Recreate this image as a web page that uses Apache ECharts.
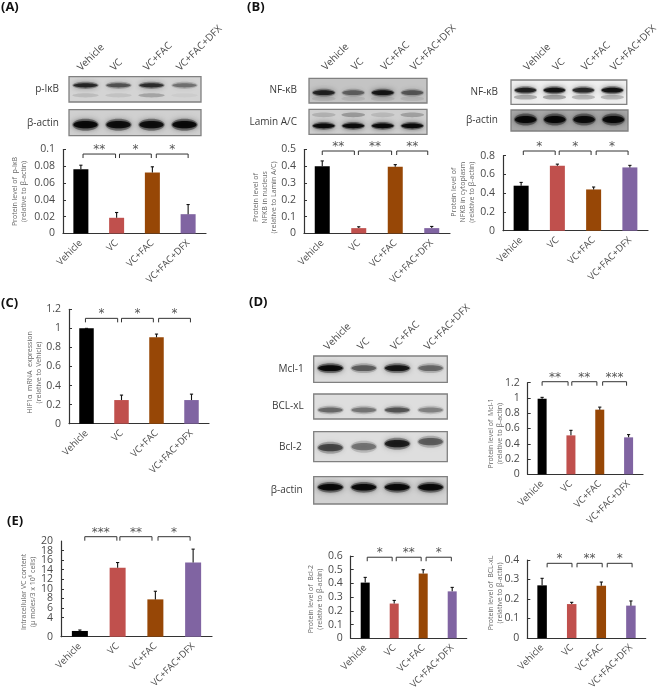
<!DOCTYPE html>
<html><head><meta charset="utf-8">
<style>html,body{margin:0;padding:0;background:#fff}#c{width:660px;height:692px}</style>
<script src="https://cdn.jsdelivr.net/npm/echarts@6/dist/echarts.min.js"></script>
</head><body><div id="c"></div>
<script>
// ---- values ----
const categories = ['Vehicle','VC','VC+FAC','VC+FAC+DFX'];
const pIkbMean = [0.0766,0.0187,0.0726,0.023];
const pIkbUpper = [0.0813,0.025,0.0794,0.0345];
const pIkbStars = ['**','*','*'];
const nfkbNucMean = [0.40,0.032,0.397,0.032];
const nfkbNucUpper = [0.432,0.04,0.41,0.042];
const nfkbNucStars = ['**','**','**'];
const nfkbCytoMean = [0.48,0.693,0.44,0.675];
const nfkbCytoUpper = [0.515,0.71,0.466,0.697];
const nfkbCytoStars = ['*','*','*'];
const hifMean = [1.0,0.248,0.906,0.248];
const hifUpper = [1.0,0.30,0.94,0.31];
const hifStars = ['*','*','*'];
const mclMean = [0.99,0.51,0.847,0.484];
const mclUpper = [1.008,0.576,0.88,0.52];
const mclStars = ['**','**','***'];
const vcMean = [1.2,14.4,7.8,15.5];
const vcUpper = [1.4,15.5,9.5,18.3];
const vcStars = ['***','**','*'];
const bcl2Mean = [0.406,0.253,0.472,0.342];
const bcl2Upper = [0.444,0.276,0.50,0.371];
const bcl2Stars = ['*','**','*'];
const bclxlMean = [0.27,0.174,0.268,0.166];
const bclxlUpper = [0.306,0.183,0.287,0.19];
const bclxlStars = ['*','**','*'];
// band darkness per lane in the blots
const blotPikb = [0.8,0.55,0.75,0.4];
const blotPikbLower = [0.15,0.12,0.3,0.05];
const blotActinA = [1,0.95,0.95,1];
const blotNfkbNuc = [0.8,0.45,0.9,0.5];
const blotNfkbNucLower = [0.1,0.1,0.1,0.1];
const blotLamin = [1,1,1,1];
const blotLaminUpper = [0.2,0.35,0.15,0.3];
const blotNfkbCyto = [0.85,0.95,0.8,0.95];
const blotNfkbCytoLower = [0.35,0.4,0.3,0.3];
const blotActinB = [1,1,0.95,1];
const blotMcl = [1,0.5,0.9,0.45];
const blotBclxl = [0.45,0.4,0.55,0.35];
const blotBcl2 = [0.6,0.4,0.85,0.5];
const blotActinD = [1,1,1,1];

// ---- style & layout ----
const FONT = '"Open Sans","Noto Sans",sans-serif';
const barColors = ['#000000','#C0504D','#974706','#8064A2'];
const T = '#4a4a4a';

const charts = [
 {left:63,top:149.5,width:143,height:84,max:0.1,step:0.02,bw:15,mean:pIkbMean,upper:pIkbUpper,stars:pIkbStars,level:0.0946,
  spans:[[.06,.97],[1.08,1.97],[2.11,3]],name:'Protein level of  p-IκB\n(relative to β-actin)',gap:35,shift:0},
 {left:304,top:149.5,width:146,height:84,max:0.5,step:0.1,bw:15,mean:nfkbNucMean,upper:nfkbNucUpper,stars:nfkbNucStars,level:0.491,
  spans:[[0,.88],[.99,1.9],[2.04,2.89]],name:'Protein level of\nNFKB in nucleus\n(relative to Lamin A/C)',gap:26,shift:6},
 {left:503,top:155.7,width:145,height:75,max:0.8,step:0.2,bw:15,mean:nfkbCytoMean,upper:nfkbCytoUpper,stars:nfkbCytoStars,level:0.85,
  spans:[[.06,.94],[1.05,1.93],[2.07,2.95]],name:'Protein level of\nNFKB in cytoplasm\n(relative to β-actin)',gap:27,shift:-1},
 {left:69,top:309.3,width:140,height:114.4,max:1.2,step:0.2,bw:14.5,mean:hifMean,upper:hifUpper,stars:hifStars,level:1.105,
  spans:[[-.03,.89],[1,1.91],[2.06,2.97]],name:'HIF1α  mRNA  expression\n(relative to Vehicle)',gap:26,shift:6},
 {left:527.7,top:382.7,width:115.3,height:91.6,max:1.2,step:0.2,bw:9,mean:mclMean,upper:mclUpper,stars:mclStars,level:1.213,
  spans:[[0,.9],[1.03,1.9],[2.1,2.93]],name:'Protein level of  Mcl-1\n(relative to β-actin)',gap:23,shift:5},
 {left:61,top:541,width:151,height:95.7,max:20,step:2,bw:16,mean:vcMean,upper:vcUpper,stars:vcStars,level:20.9,dense:true,
  spans:[[.13,.98],[1.06,1.91],[2.07,2.92]],name:'Intracellular VC content\n(μ moles/3 x 10⁶ cells)',gap:24,shift:3},
 {left:350.7,top:556,width:116,height:84.7,max:0.6,step:0.1,bw:9,mean:bcl2Mean,upper:bcl2Upper,stars:bcl2Stars,level:0.591,
  spans:[[.07,.93],[1.07,1.93],[2.1,2.97]],name:'Protein level of  Bcl-2\n(relative to β-actin)',gap:26,shift:2},
 {left:527.3,top:560,width:118.4,height:78,max:0.4,step:0.1,bw:9.5,mean:bclxlMean,upper:bclxlUpper,stars:bclxlStars,level:0.383,
  spans:[[.17,1.01],[1.18,2.03],[2.2,3.04]],name:'Protein level of  BCL-xL\n(relative to β-actin)',gap:23,shift:-6},
];

const blots = [
 {label:'p-IκB',left:69,top:76.7,width:132,height:25.3,main:blotPikb,extra:blotPikbLower,cy:-4,ey:6,rh:2.4,bg:'#d4d4d4',lanes:true,margin:1,laneShift:18,labelMargin:10},
 {label:'β-actin',left:69,top:109.7,width:132,height:26,main:blotActinA,cy:2,rh:4,bg:'#d0d0d0',labelMargin:10},
 {label:'NF-κB',left:309,top:78.3,width:118,height:24.7,main:blotNfkbNuc,extra:blotNfkbNucLower,cy:2,ey:8,rh:2.6,bg:'#c4c4c4',lanes:true,margin:9.5,labelMargin:12},
 {label:'Lamin A/C',left:309,top:109.3,width:118,height:25,main:blotLamin,extra:blotLaminUpper,cy:4,ey:-7,rh:2.6,bg:'#cfcfcf',labelMargin:12},
 {label:'NF-κB',left:511,top:80,width:117,height:24.3,main:blotNfkbCyto,extra:blotNfkbCytoLower,cy:-2,ey:5,rh:2.6,bg:'#efefef',lanes:true,margin:11,labelMargin:13},
 {label:'β-actin',left:511,top:110,width:117,height:21,main:blotActinB,cy:-1,rh:4,bg:'#a8a8a8',labelMargin:13},
 {label:'Mcl-1',left:313.7,top:356,width:133.6,height:26.3,main:blotMcl,cy:-1,rh:3.2,bg:'#dcdcdc',lanes:true,margin:3,laneShift:13,labelMargin:10},
 {label:'BCL-xL',left:313.7,top:394,width:133.6,height:25,main:blotBclxl,cy:3.5,rh:2.8,bg:'#dedede',labelMargin:10},
 {label:'Bcl-2',left:313.7,top:431.7,width:133.6,height:30,main:blotBcl2,cy:-2,rh:4,bg:'#dedede',labelMargin:12,tilt:[3,2,-1,-3]},
 {label:'β-actin',left:313.7,top:476.7,width:133.6,height:27.3,main:blotActinD,cy:-3,rh:3.6,bg:'#d2d2d2',labelMargin:11},
];

const letters = [['(A)',1,1],['(B)',247,1],['(C)',1,297],['(D)',249,296],['(E)',7,515]];

// ---- build option ----
const option = {animation:false,backgroundColor:'#fff',textStyle:{fontFamily:FONT},
  title:letters.map(l=>({text:l[0],left:l[1],top:l[2],padding:0,textStyle:{fontFamily:FONT,fontSize:13,fontWeight:'bold',color:'#111'}})),
  grid:[],xAxis:[],yAxis:[],series:[]};

function addBlot(b){
  const i=option.grid.length;
  option.grid.push({left:b.left,top:b.top,width:b.width,height:b.height,show:true,backgroundColor:b.bg,borderColor:'#808080',borderWidth:1.3});
  const lab={show:!!b.lanes,interval:0,rotate:-45,margin:b.margin||10,fontSize:10,color:T,fontFamily:FONT};
  if(b.laneShift){lab.verticalAlign='bottom';lab.lineHeight=b.laneShift;}
  option.xAxis.push({gridIndex:i,type:'category',position:'top',data:categories,axisLine:{show:false},axisTick:{show:false},axisLabel:lab});
  option.yAxis.push({gridIndex:i,type:'category',data:[b.label],axisLine:{show:false},axisTick:{show:false},
    axisLabel:{margin:b.labelMargin,fontSize:10,color:'#3a3a3a',fontFamily:FONT}});
  option.series.push({type:'custom',xAxisIndex:i,yAxisIndex:i,clip:true,silent:true,
    data:b.main.map((v,k)=>[k,0,v,b.extra?b.extra[k]:0]),encode:{x:0,y:1},
    renderItem(p,api){
      const c=api.coord([api.value(0),0]), size=api.size([1,0]);
      const rx=size[0]*0.4, ch=[], off=b.tilt?b.tilt[p.dataIndex]:0;
      const band=(o,ry,op,blur,r)=>({type:'ellipse',shape:{cx:c[0],cy:c[1]+o+off,rx:r||rx,ry},
        style:{fill:'rgba(0,0,0,'+op+')',shadowBlur:blur,shadowColor:'rgba(0,0,0,'+op+')'}});
      if(api.value(3)>0) ch.push(band(b.ey,b.rh*0.9,api.value(3)*0.7,7));
      ch.push(band(b.cy,b.rh*1.5,api.value(2)*0.35,9));
      ch.push(band(b.cy,b.rh*0.9,api.value(2)*0.85,5,rx*0.92));
      return {type:'group',children:ch};
    }});
}

const extraAxes=[];
function addChart(c){
  const i=option.grid.length;
  const tickLab={margin:8,fontSize:10.5,lineHeight:9,color:T,fontFamily:FONT,hideOverlap:false};
  option.grid.push({left:c.left,top:c.top,width:c.width,height:c.height});
  option.xAxis.push({gridIndex:i,type:'category',data:categories,axisTick:{show:false},
    axisLine:{lineStyle:{color:'#333',width:1.2}},
    axisLabel:{interval:0,rotate:45,margin:8,fontSize:9.5,color:T,fontFamily:FONT}});
  option.yAxis.push({gridIndex:i,type:'value',position:'left',min:0,max:c.max,interval:c.step,splitLine:{show:false},
    axisLine:{show:true,lineStyle:{color:'#333',width:1.2}},axisTick:{show:true,inside:true,length:3,lineStyle:{color:'#333'}},
    axisLabel:Object.assign({},tickLab,{showMinLabel:true,showMaxLabel:!c.dense}),
    name:c.name,nameLocation:'middle',nameRotate:90,nameGap:c.gap,nameMoveOverlap:false,
    nameTextStyle:{fontSize:7,lineHeight:9,color:'#666',fontFamily:FONT,
      padding:c.shift>=0?[0,2*c.shift,0,0]:[0,0,0,-2*c.shift]}});
  if(c.dense) extraAxes.push({gridIndex:i,type:'value',position:'left',min:0,max:c.max,interval:c.max,splitLine:{show:false},
    axisLine:{show:false},axisTick:{show:false},
    axisLabel:Object.assign({},tickLab,{showMinLabel:false,showMaxLabel:true})});
  option.series.push({type:'bar',xAxisIndex:i,yAxisIndex:i,barWidth:c.bw,silent:true,
    data:c.mean.map((v,k)=>({value:v,itemStyle:{color:barColors[k]}}))});
  option.series.push({type:'custom',xAxisIndex:i,yAxisIndex:i,silent:true,z:3,
    data:c.mean.map((v,k)=>[k,v,c.upper[k]]),encode:{x:0,y:1},
    renderItem(p,api){
      const a=api.coord([api.value(0),api.value(1)]), b=api.coord([api.value(0),api.value(2)]);
      const s={stroke:'#111',lineWidth:1.1,fill:null};
      return {type:'group',children:[
        {type:'line',shape:{x1:a[0],y1:a[1],x2:b[0],y2:b[1]},style:s},
        {type:'line',shape:{x1:b[0]-1.6,y1:b[1],x2:b[0]+1.6,y2:b[1]},style:s}]};
    }});
  option.series.push({type:'custom',xAxisIndex:i,yAxisIndex:i,silent:true,clip:false,z:4,
    data:c.stars.map((s,k)=>[k,c.level]),encode:{x:0,y:1},
    renderItem(p,api){
      const k=p.dataIndex,x0=api.coord([0,c.level]),x1=api.coord([1,c.level]);
      const X=f=>x0[0]+(x1[0]-x0[0])*f, y=x0[1];
      const a=X(c.spans[k][0]), b=X(c.spans[k][1]);
      return {type:'group',children:[
        {type:'polyline',shape:{points:[[a,y+4],[a,y],[b,y],[b,y+4]]},style:{stroke:'#333',lineWidth:1,fill:null}},
        {type:'text',style:{x:(a+b)/2,y:y-4,text:c.stars[k],fill:'#555',font:'12px "DejaVu Sans"',textAlign:'center',textVerticalAlign:'middle'}}]};
    }});
}
blots.forEach(addBlot);
charts.forEach(addChart);
extraAxes.forEach(a=>option.yAxis.push(a));
echarts.init(document.getElementById('c'),null,{renderer:'canvas'}).setOption(option);
</script></body></html>
